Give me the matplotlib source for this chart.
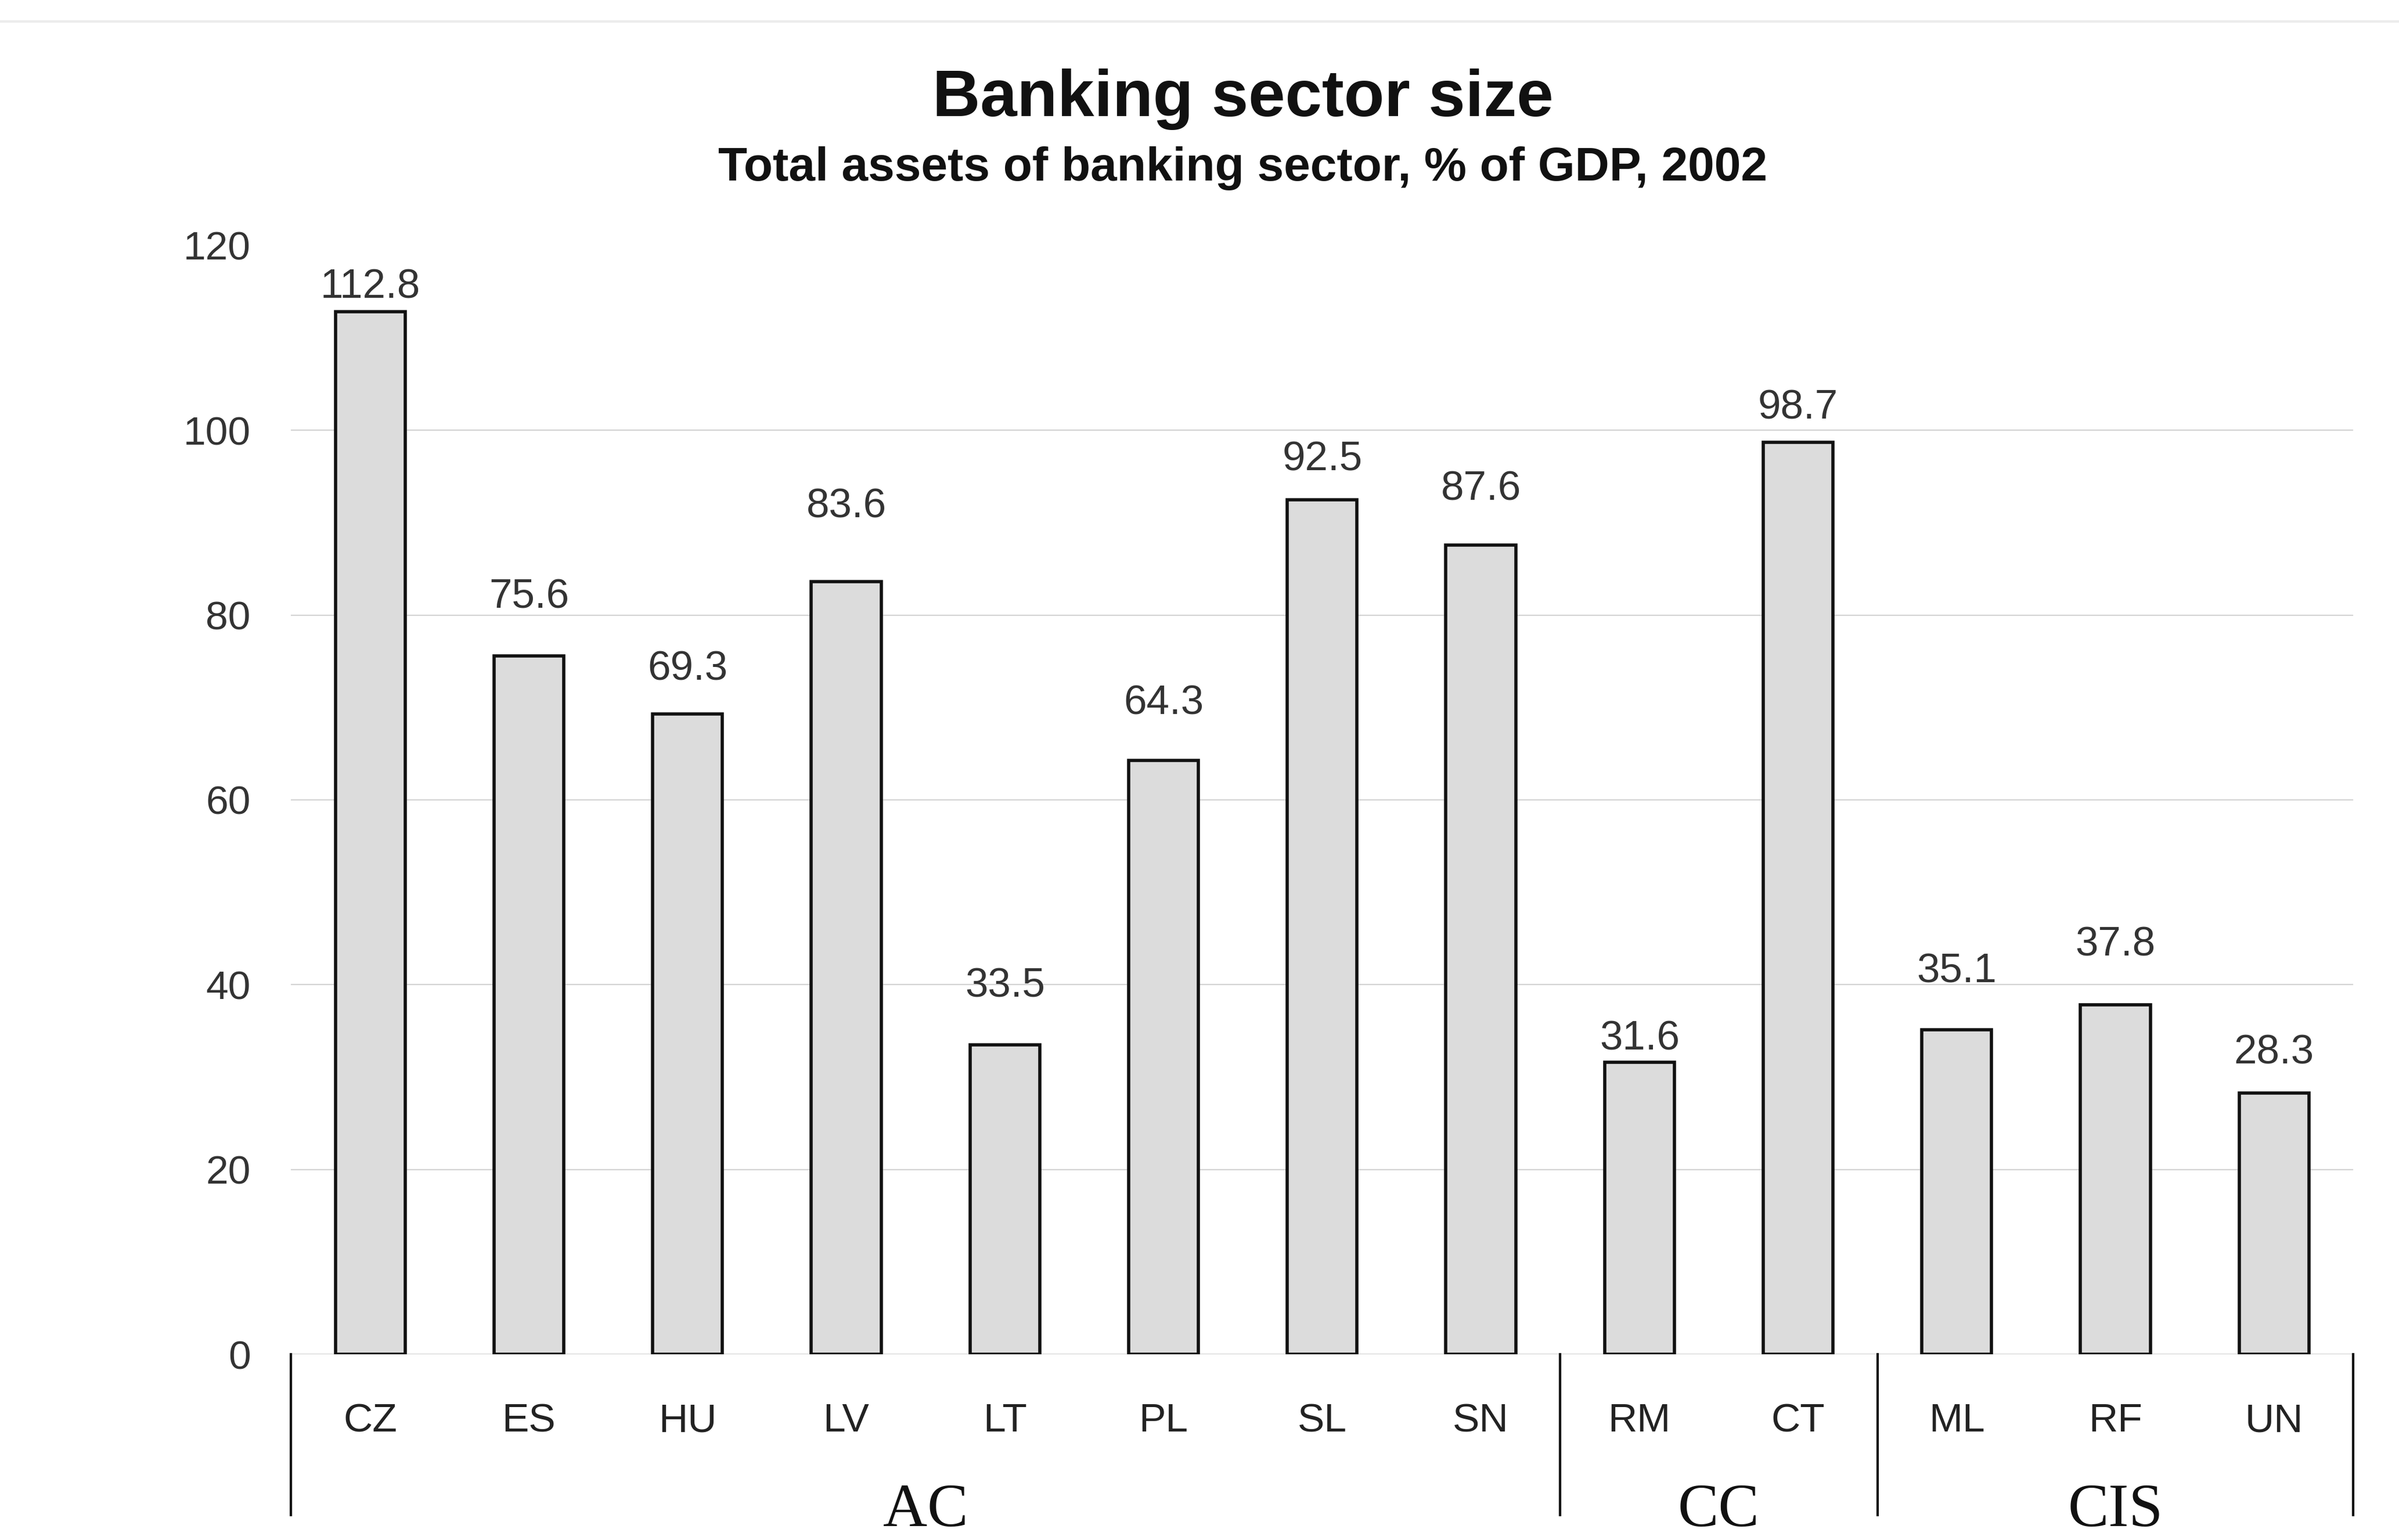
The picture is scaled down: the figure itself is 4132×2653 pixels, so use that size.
import matplotlib
matplotlib.use("Agg")
import matplotlib.pyplot as plt
import matplotlib.transforms as mtransforms

COUNTRIES = ["CZ", "ES", "HU", "LV", "LT", "PL", "SL", "SN", "RM", "CT", "ML", "RF", "UN"]
ASSETS_PCT_GDP = [112.8, 75.6, 69.3, 83.6, 33.5, 64.3, 92.5, 87.6, 31.6, 98.7, 35.1, 37.8, 28.3]
GROUPS = ["AC", "CC", "CIS"]
GROUP_SIZES = [8, 2, 3]
Y_TICKS = [0, 20, 40, 60, 80, 100, 120]

# how far each value label sits above its bar, in pixels
LABEL_LIFT = [42, 100, 76, 129, 100, 97, 68, 95, 40, 58, 100, 103, 68]

SANS = "Liberation Sans"
SERIF = "Liberation Serif"
TEXT_GREY = "#333333"

fig = plt.figure(figsize=(41.32, 26.53), dpi=100)
ax = fig.add_axes([0.1213, 0.1206, 0.8597, 0.72])

x = list(range(len(COUNTRIES)))
bars = ax.bar(x, ASSETS_PCT_GDP, width=0.44, color="#dcdcdc",
              edgecolor="#111111", linewidth=4, zorder=3)

for rect, val, lift in zip(bars, ASSETS_PCT_GDP, LABEL_LIFT):
    ax.annotate(f"{val:.1f}", (rect.get_x() + rect.get_width() / 2, val),
                xytext=(0, lift), textcoords="offset pixels",
                ha="center", va="center", fontsize=51, family=SANS,
                color=TEXT_GREY)

ax.set_xlim(-0.5, len(COUNTRIES) - 0.5)
ax.set_ylim(0, 120)
ax.set_yticks(Y_TICKS)
ax.set_yticklabels([str(t) for t in Y_TICKS], fontsize=50, family=SANS,
                   color=TEXT_GREY)
ax.tick_params(axis="y", length=0, pad=50)

ax.set_xticks(x)
ax.set_xticklabels(COUNTRIES, fontsize=50, family=SANS, color="#222222")
ax.tick_params(axis="x", length=0, pad=60)

ax.yaxis.grid(True, color="#d4d4d4", linewidth=1.6, zorder=0)
ax.get_ygridlines()[-1].set_visible(False)
for side in ["top", "right", "left", "bottom"]:
    ax.spines[side].set_visible(False)

# group separators and group names under the country labels
trans = mtransforms.blended_transform_factory(ax.transData, ax.transAxes)
edges = [-0.5]
for size in GROUP_SIZES:
    edges.append(edges[-1] + size)
for edge in edges:
    ax.plot([edge, edge], [0, -0.145], color="#111111", linewidth=3,
            transform=trans, clip_on=False)
for name, lo, hi in zip(GROUPS, edges[:-1], edges[1:]):
    ax.text((lo + hi) / 2, -0.1415, name, transform=trans, ha="center",
            va="center", fontsize=76, family=SERIF, color="#111111")

fig.text(0.518, 1 - 171 / 2653, "Banking sector size", ha="center",
         va="center", fontsize=82, fontweight="bold", family=SANS,
         color="#111111")
fig.text(0.518, 1 - 290 / 2653, "Total assets of banking sector, % of GDP, 2002",
         ha="center", va="center", fontsize=59, fontweight="bold",
         family=SANS, color="#111111")

# faint frame edge along the top
fig.add_artist(plt.Line2D([0.0, 1.0], [1 - 37 / 2653] * 2,
                          transform=fig.transFigure, color="#ececec",
                          linewidth=3))

fig.savefig("out.png", dpi=100, facecolor="white")
